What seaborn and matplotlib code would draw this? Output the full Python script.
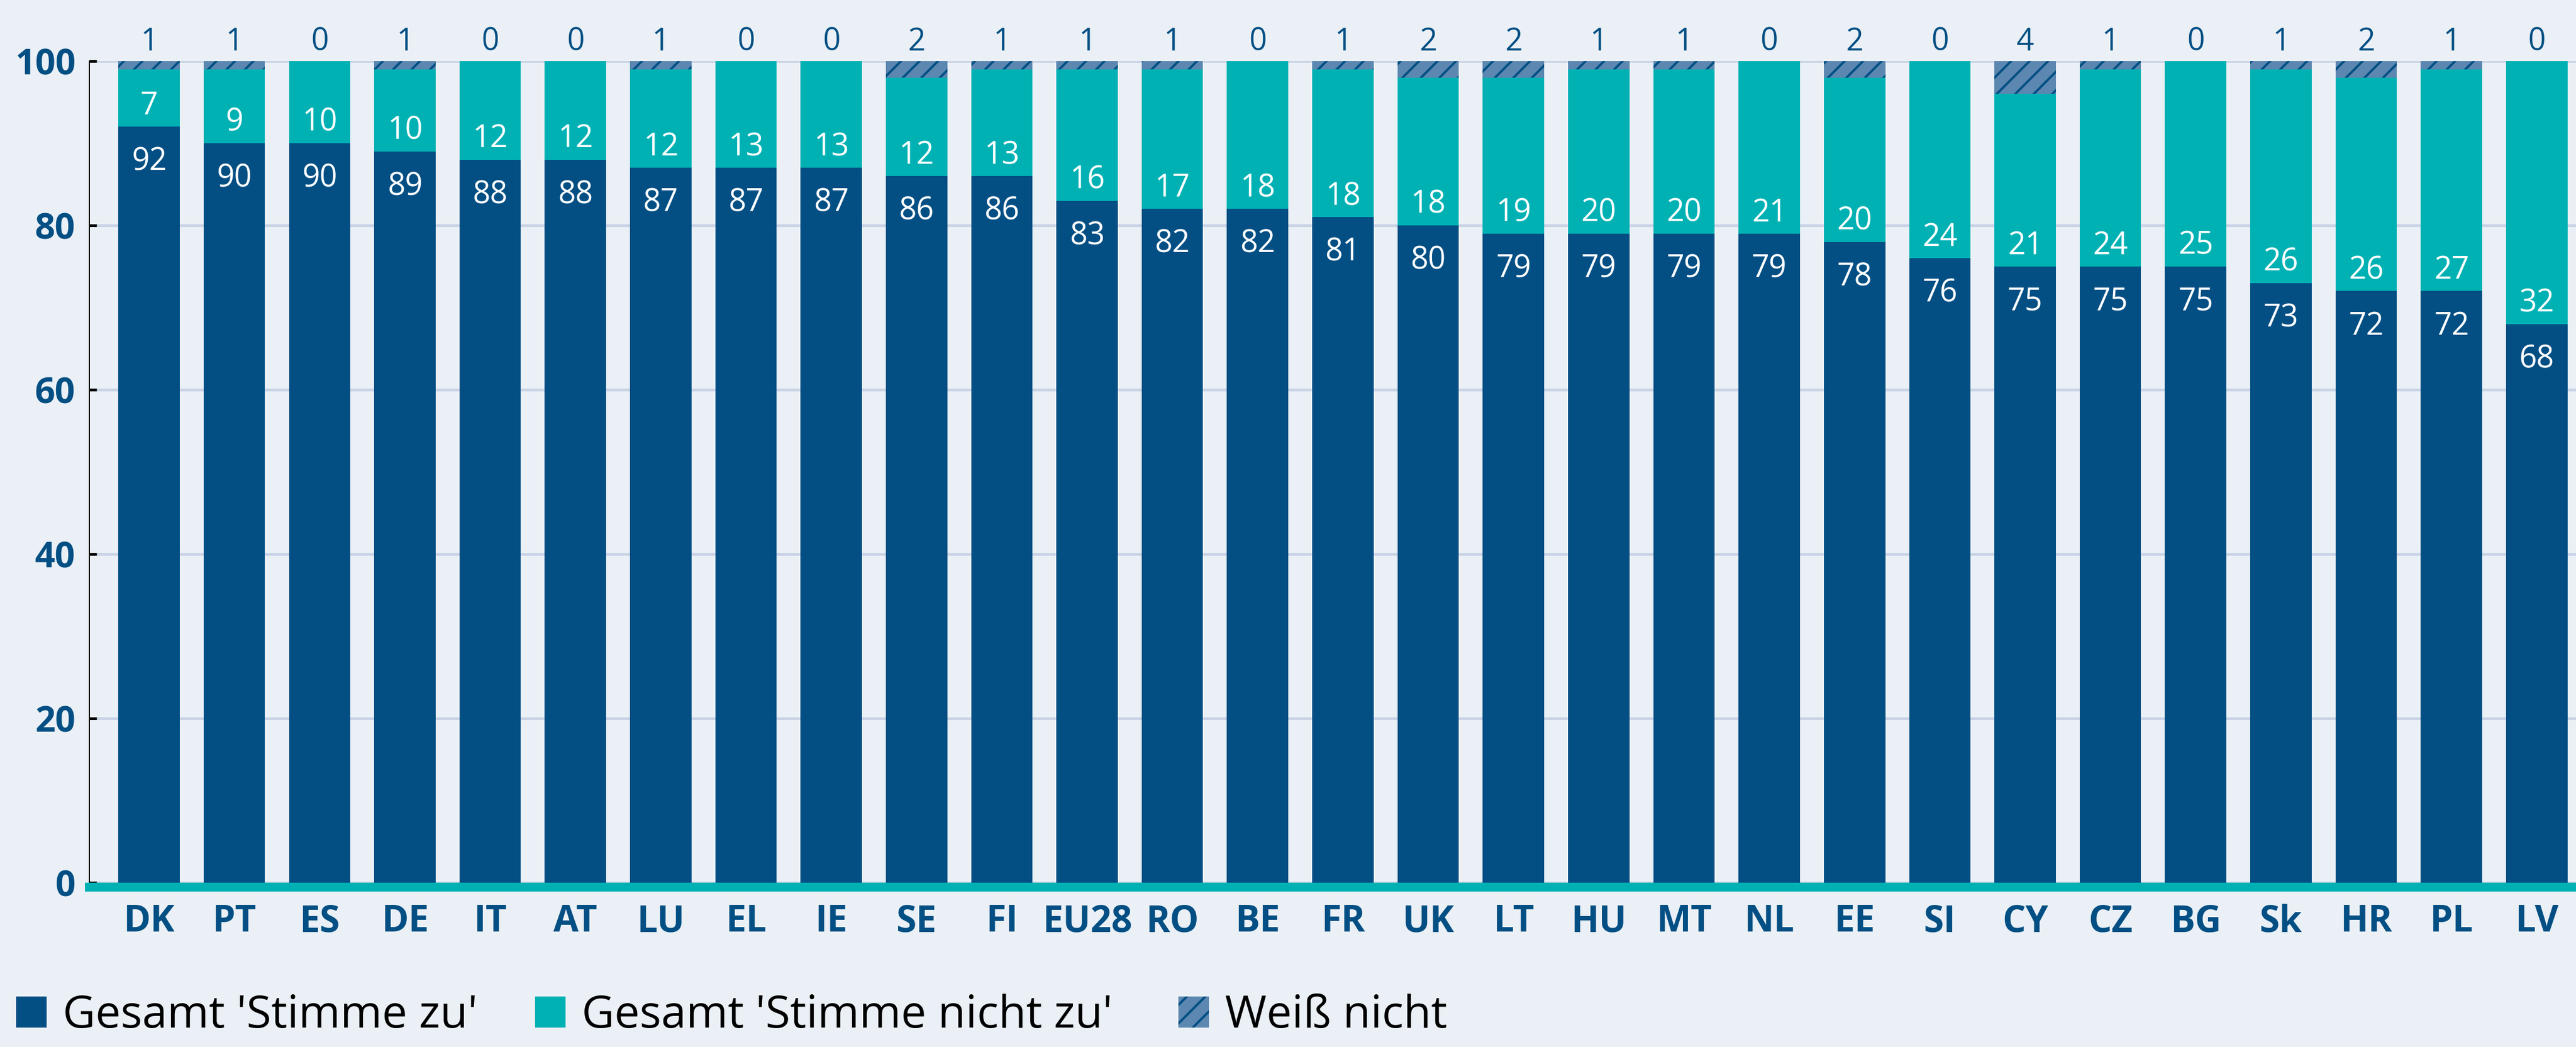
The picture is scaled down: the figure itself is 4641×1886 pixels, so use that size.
import matplotlib
matplotlib.use("Agg")
import matplotlib.pyplot as plt
import numpy as np
import pandas as pd
import seaborn as sns
from matplotlib.patches import Patch

# ---------------- data ----------------
countries = ["DK", "PT", "ES", "DE", "IT", "AT", "LU", "EL", "IE", "SE", "FI", "EU28",
             "RO", "BE", "FR", "UK", "LT", "HU", "MT", "NL", "EE", "SI", "CY", "CZ",
             "BG", "Sk", "HR", "PL", "LV"]
agree = [92, 90, 90, 89, 88, 88, 87, 87, 87, 86, 86, 83, 82, 82, 81, 80, 79, 79, 79,
         79, 78, 76, 75, 75, 75, 73, 72, 72, 68]
disagree = [7, 9, 10, 10, 12, 12, 12, 13, 13, 12, 13, 16, 17, 18, 18, 18, 19, 20, 20,
            21, 20, 24, 21, 24, 25, 26, 26, 27, 32]
dont_know = [1, 1, 0, 1, 0, 0, 1, 0, 0, 2, 1, 1, 1, 0, 1, 2, 2, 1, 1, 0, 2, 0, 4, 1,
             0, 1, 2, 1, 0]
legend_labels = ["Gesamt 'Stimme zu'", "Gesamt 'Stimme nicht zu'", "Weiß nicht"]
yticks = [0, 20, 40, 60, 80, 100]

# ---------------- style ----------------
DARK = "#034f84"
TEAL = "#00b1b4"
HATCHFILL = "#5b87b0"
BG = "#eaf0f5"
GRID = "#c9d3e6"
HATCH = "//"

sns.set_theme(style="white")
plt.rcParams['font.family'] = ['Open Sans', 'DejaVu Sans']
plt.rcParams['hatch.linewidth'] = 1.5
plt.rcParams['hatch.color'] = DARK

df = pd.DataFrame({"country": countries, "agree": agree,
                   "disagree": disagree, "dk": dont_know})
df["upper"] = df["agree"] + df["disagree"]
df["total"] = df["upper"] + df["dk"]

DPI = 200
W_PX, H_PX = 4641, 1886
fig = plt.figure(figsize=(W_PX / DPI, H_PX / DPI), dpi=DPI, facecolor=BG)
ax = fig.add_axes([161 / W_PX, 1 - 1590 / H_PX, 1 - 161 / W_PX, (1590 - 110) / H_PX])
ax.set_facecolor(BG)

BW = 0.72
sns.barplot(data=df, x="country", y="total", color=HATCHFILL, saturation=1, width=BW,
            errorbar=None, hatch=HATCH, edgecolor=DARK, linewidth=0, ax=ax)
sns.barplot(data=df, x="country", y="upper", color=TEAL, saturation=1, width=BW,
            errorbar=None, edgecolor=TEAL, linewidth=0, ax=ax)
sns.barplot(data=df, x="country", y="agree", color=DARK, saturation=1, width=BW,
            errorbar=None, edgecolor=DARK, linewidth=0, ax=ax)

# value labels
for i, row in df.iterrows():
    ax.text(i, row["agree"] - 5.3, f"{row['agree']}", ha="center", va="baseline",
            color="white", fontsize=20)
    ax.text(i, row["agree"] + 1.5, f"{row['disagree']}", ha="center", va="baseline",
            color="white", fontsize=20)
    ax.text(i, 101.3, f"{row['dk']}", ha="center", va="baseline",
            color=DARK, fontsize=20, clip_on=False)

# axes
ax.set_ylim(0, 100)
ax.set_xlim(-0.70, len(countries) - 1 + 0.46)
ax.set_yticks(yticks)
ax.set_xlabel("")
ax.set_ylabel("")
ax.set_axisbelow(True)
ax.yaxis.grid(True, color=GRID, linewidth=1.8)
ax.xaxis.grid(False)

for s in ["top", "right"]:
    ax.spines[s].set_visible(False)
ax.spines["left"].set_color("black")
ax.spines["left"].set_linewidth(0.72)
ax.spines["bottom"].set_color(TEAL)
ax.spines["bottom"].set_linewidth(5.76)
ax.spines["bottom"].set_position(("outward", 2.88))

ax.tick_params(axis="y", direction="in", length=4.7, width=1.8, color="black",
               pad=9, labelsize=23, labelcolor=DARK, left=True)
ax.tick_params(axis="x", length=0, pad=10.5, labelsize=23.7, labelcolor=DARK)
for lab in ax.get_yticklabels() + ax.get_xticklabels():
    lab.set_fontweight("bold")

# legend: three entries placed at their own horizontal positions
handles = [Patch(facecolor=DARK, edgecolor=DARK, linewidth=0),
           Patch(facecolor=TEAL, edgecolor=TEAL, linewidth=0),
           Patch(facecolor=HATCHFILL, edgecolor=DARK, linewidth=0, hatch=HATCH)]
legend_x_px = [29, 964, 2123]
for h, lab, xp in zip(handles, legend_labels, legend_x_px):
    fig.legend([h], [lab], loc="center left",
               bbox_to_anchor=(xp / W_PX, 1 - 1830 / H_PX), frameon=False,
               fontsize=29.2, handlelength=0.68, handleheight=0.69, handletextpad=0.35,
               borderpad=0, borderaxespad=0, labelcolor="black")

fig.savefig("out.png", dpi=DPI, facecolor=BG)
